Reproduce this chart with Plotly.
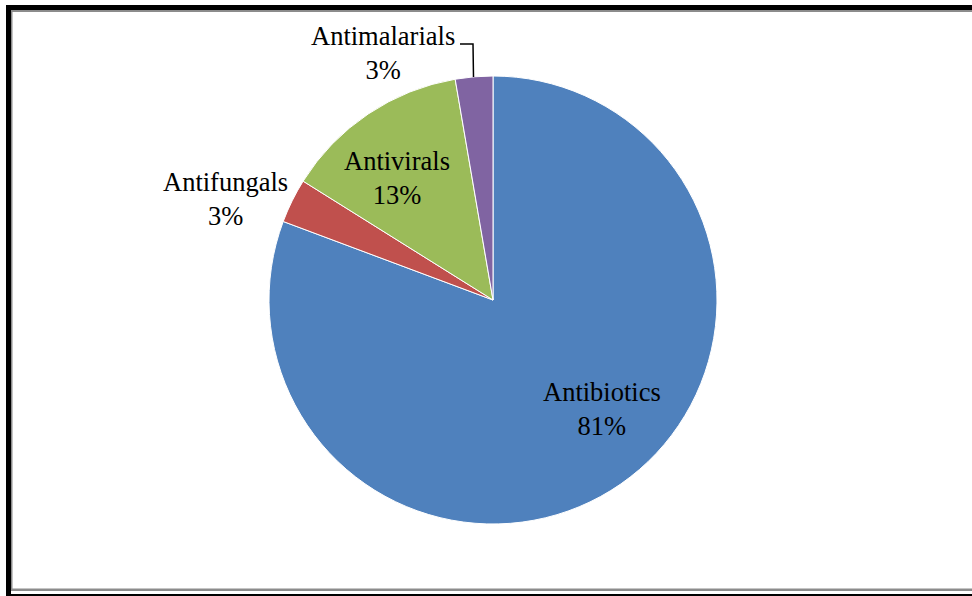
import plotly.graph_objects as go

categories = ["Antibiotics", "Antifungals", "Antivirals", "Antimalarials"]
values = [80.7, 3.2, 13.4, 2.7]
colors = ["#4F81BD", "#C0504D", "#9BBB59", "#8064A2"]

W, H = 972, 596
def px(x):
    return x / W
def py(y):
    return 1 - y / H

total = sum(values)
pct = [f"{round(v / total * 100)}%" for v in values]

fig = go.Figure(go.Pie(
    labels=categories, values=values, sort=False, direction="clockwise",
    rotation=0, textinfo="none", hoverinfo="label+percent",
    marker=dict(colors=colors, line=dict(color="white", width=1)),
    domain=dict(x=[px(269), px(717)], y=[py(524), py(76)]),
    showlegend=False,
))

# label centres (pixels)
label_pos = {
    "Antibiotics": (602, 409),
    "Antifungals": (225, 199),
    "Antivirals": (397, 178),
    "Antimalarials": (383, 53),
}
font = dict(family="Liberation Serif, Times New Roman, serif", size=26.5, color="black")
annotations = []
for c, p in zip(categories, pct):
    x, y = label_pos[c]
    annotations.append(dict(x=px(x), y=py(y), xref="paper", yref="paper",
                            text=f"{c}<br>{p}", showarrow=False,
                            xanchor="center", yanchor="middle", font=font))

shapes = [
    # leader line for Antimalarials
    dict(type="path", xref="paper", yref="paper",
         path=f"M {px(460)} {py(44)} L {px(473)} {py(44)} L {px(473.5)} {py(77)}",
         line=dict(color="black", width=1.5)),
    # frame: top black band + gray line
    dict(type="rect", xref="paper", yref="paper", x0=px(6), x1=px(972), y0=py(10), y1=py(5),
         fillcolor="black", line=dict(width=0)),
    dict(type="rect", xref="paper", yref="paper", x0=px(11), x1=px(972), y0=py(12), y1=py(10),
         fillcolor="#8c8c8c", line=dict(width=0)),
    # left black band + gray line
    dict(type="rect", xref="paper", yref="paper", x0=px(6), x1=px(11), y0=py(596), y1=py(5),
         fillcolor="black", line=dict(width=0)),
    dict(type="rect", xref="paper", yref="paper", x0=px(11), x1=px(12.5), y0=py(591), y1=py(10),
         fillcolor="#8c8c8c", line=dict(width=0)),
    # bottom gray line + black line
    dict(type="rect", xref="paper", yref="paper", x0=px(11), x1=px(972), y0=py(591), y1=py(588.5),
         fillcolor="#8c8c8c", line=dict(width=0)),
    dict(type="rect", xref="paper", yref="paper", x0=px(6), x1=px(972), y0=py(596), y1=py(594),
         fillcolor="black", line=dict(width=0)),
]

fig.update_layout(
    width=W, height=H, margin=dict(l=0, r=0, t=0, b=0),
    paper_bgcolor="white", plot_bgcolor="white",
    annotations=annotations, shapes=shapes,
)
fig.write_html("out.html")
